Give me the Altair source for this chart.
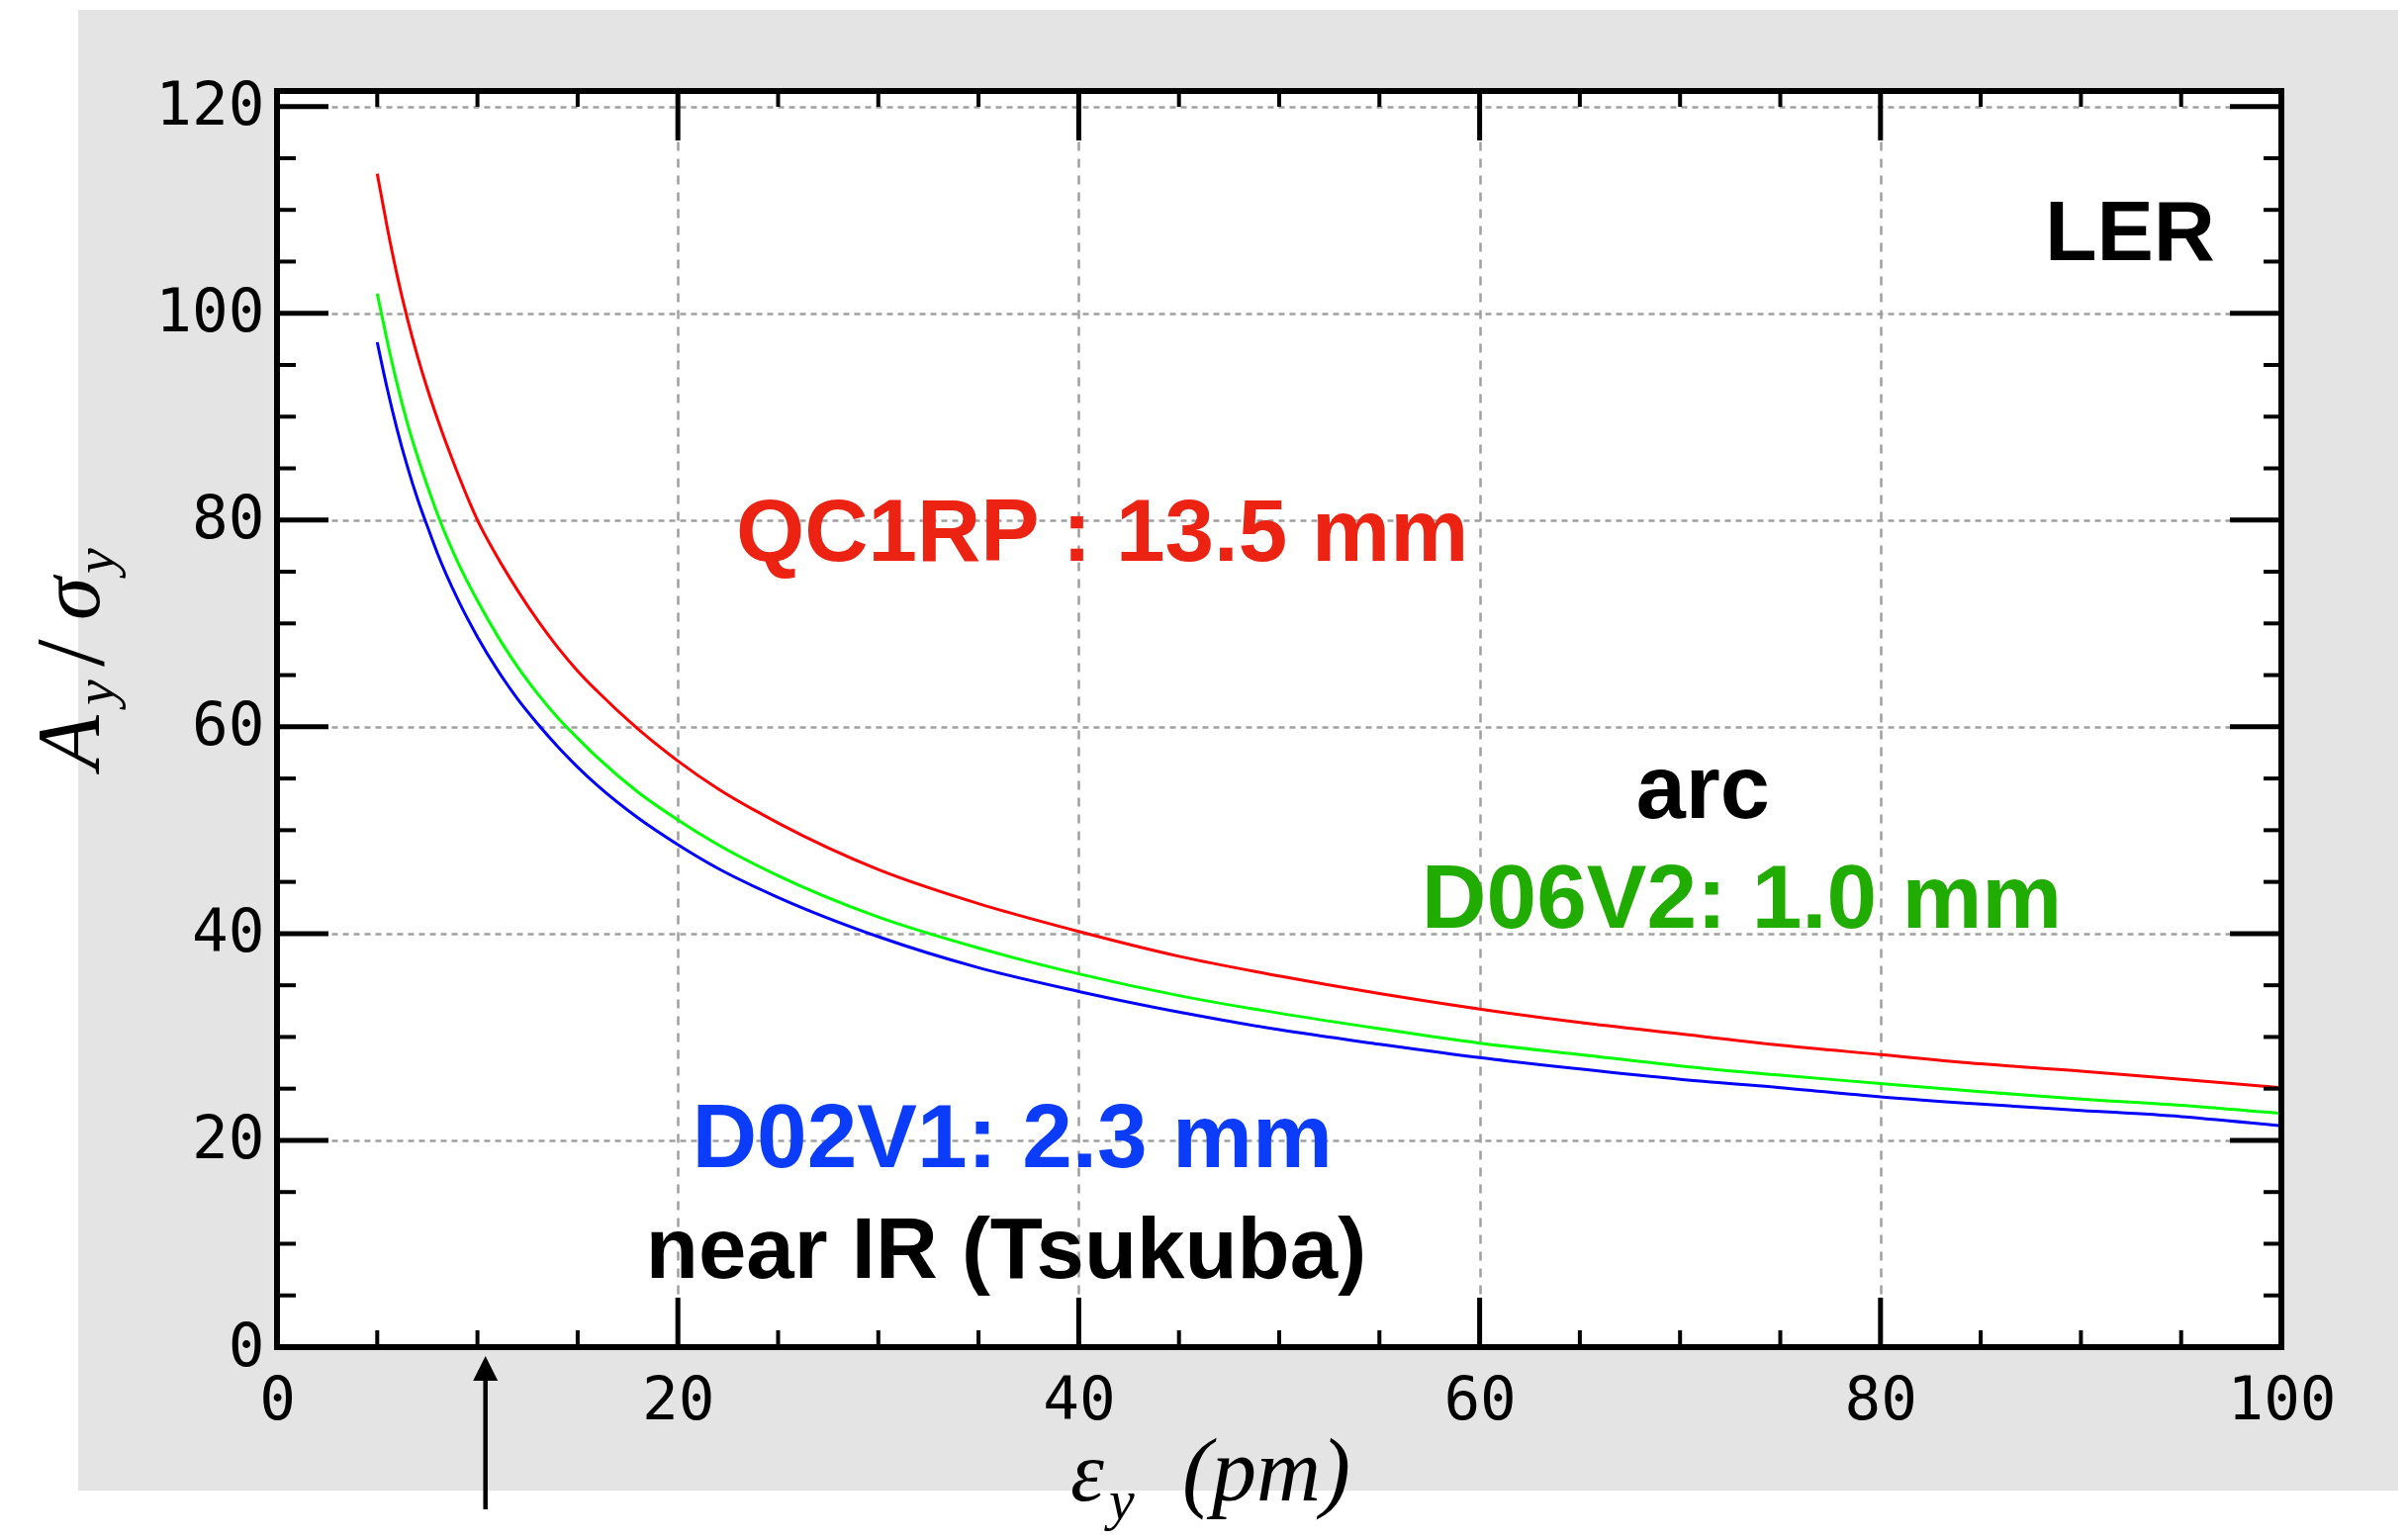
import altair as alt
import pandas as pd

# ---------------- data ----------------
eps_y = [5, 5.5, 6, 6.5, 7, 7.5, 8, 9, 10, 11, 12, 13, 14, 15, 16, 18, 20, 22, 25,
         30, 35, 40, 45, 50, 55, 60, 65, 70, 75, 80, 85, 90, 95, 100]
qc1rp = [113.5, 108.3, 103.6, 99.5, 95.9, 92.7, 89.8, 84.6, 80.0, 76.4, 73.2, 70.3,
         67.7, 65.4, 63.4, 59.8, 56.7, 54.0, 50.7, 46.2, 42.9, 40.2, 37.8, 35.9,
         34.2, 32.7, 31.4, 30.3, 29.2, 28.3, 27.4, 26.7, 25.9, 25.1]
d06v2 = [101.9, 97.3, 93.1, 89.4, 86.2, 83.3, 80.6, 76.0, 72.2, 68.8, 65.8, 63.2,
         60.9, 58.9, 57.0, 53.7, 51.0, 48.6, 45.6, 41.6, 38.6, 36.1, 34.0, 32.3,
         30.8, 29.4, 28.3, 27.2, 26.3, 25.5, 24.7, 24.0, 23.4, 22.6]
d02v1 = [97.2, 92.7, 88.7, 85.2, 82.1, 79.4, 76.8, 72.4, 68.7, 65.5, 62.7, 60.3,
         58.1, 56.1, 54.3, 51.2, 48.6, 46.3, 43.5, 39.7, 36.7, 34.4, 32.4, 30.7,
         29.3, 28.0, 26.9, 25.9, 25.1, 24.2, 23.5, 22.9, 22.3, 21.4]

series_names = ["QC1RP", "D06V2", "D02V1"]
series_colors = ["#ff0000", "#00ff00", "#0000ff"]

x_major = [0, 20, 40, 60, 80, 100]
x_minor = [5, 10, 15, 25, 30, 35, 45, 50, 55, 65, 70, 75, 85, 90, 95]
y_major = [0, 20, 40, 60, 80, 100, 120]
y_minor = [5, 10, 15, 25, 30, 35, 45, 50, 55, 65, 70, 75, 85, 90, 95, 105, 110, 115]

ann_text = ["LER", "QC1RP : 13.5 mm", "arc", "D06V2: 1.0 mm", "D02V1: 2.3 mm", "near IR (Tsukuba)"]
ann_x = [88.2, 22.9, 67.8, 57.1, 20.7, 18.4]
ann_y = [105.1, 76.1, 51.2, 40.6, 17.4, 6.7]
ann_color = ["#000000", "#ec2212", "#000000", "#20ac00", "#0a3cfa", "#000000"]
ann_size = [86, 89, 90, 91, 91, 87]

arrow_x = [10.4]
arrow_y_bottom = [-15.7]
arrow_y_base = [-3.2]
arrow_y_head = [-2.05]

# ---------------- layout ----------------
W, H = 2026, 1270
PAD = {"left": 272, "top": 84, "right": 118, "bottom": 186}

xs = alt.Scale(domain=[0, 100], nice=False, zero=False)
ys = alt.Scale(domain=[0, 121.5], nice=False, zero=False)

x_axis = alt.Axis(values=x_major, title=None, ticks=False, domain=False,
                  labelFont="DejaVu Sans Mono", labelFontSize=61, labelColor="black",
                  labelPadding=24, labelFlush=False, labelOverlap=False, format="d",
                  grid=True, gridDash=[9, 8], gridColor="#a0a0a0", gridWidth=2.5)
y_axis = alt.Axis(values=y_major, title=None, ticks=False, domain=False,
                  labelFont="DejaVu Sans Mono", labelFontSize=61, labelColor="black",
                  labelPadding=13, labelFlush=False, labelOverlap=False, format="d",
                  grid=True, gridDash=[6, 5], gridColor="#a0a0a0", gridWidth=2.5)

rows = []
for name, vals in zip(series_names, [qc1rp, d06v2, d02v1]):
    for x, v in zip(eps_y, vals):
        rows.append({"eps": x, "ratio": v, "s": name})
df = pd.DataFrame(rows)

one = alt.Data(values=[{}])

def strip(x1, x2, y1, y2, color):
    return alt.Chart(one).mark_rect(color=color).encode(
        x=alt.value(x1), x2=alt.value(x2), y=alt.value(y1), y2=alt.value(y2))

strips = [
    strip(-272, -201, -84, 1456, "white"),
    strip(-272, 2144, -84, -82, "white"),
    strip(-272, 2144, 1415, 1456, "white"),
]

lines = alt.Chart(df).mark_line(strokeWidth=3, interpolate="monotone").encode(
    x=alt.X("eps:Q", scale=xs, axis=x_axis),
    y=alt.Y("ratio:Q", scale=ys, axis=y_axis),
    color=alt.Color("s:N", scale=alt.Scale(domain=series_names, range=series_colors), legend=None),
    detail="s:N",
)

dxM = pd.DataFrame({"v": x_major})
dxm = pd.DataFrame({"v": x_minor})
dyM = pd.DataFrame({"v": y_major})
dym = pd.DataFrame({"v": y_minor})

def xtick(d, y1, y2, w):
    return alt.Chart(d).mark_rule(color="black", strokeWidth=w).encode(
        x=alt.X("v:Q", scale=xs, axis=x_axis), y=alt.value(y1), y2=alt.value(y2))

def ytick(d, x1, x2, w):
    return alt.Chart(d).mark_rule(color="black", strokeWidth=w).encode(
        y=alt.Y("v:Q", scale=ys, axis=y_axis), x=alt.value(x1), x2=alt.value(x2))

ticks = [
    xtick(dxM, H, H - 50, 5), xtick(dxm, H, H - 17, 4),
    xtick(dxM, 0, 50, 5), xtick(dxm, 0, 16, 4),
    ytick(dyM, 0, 52, 5), ytick(dym, 0, 19, 4),
    ytick(dyM, W, W - 52, 5), ytick(dym, W, W - 18, 4),
]

frame = alt.Chart(one).mark_rect(filled=False, stroke="black", strokeWidth=6).encode(
    x=alt.value(0), x2=alt.value(W), y=alt.value(0), y2=alt.value(H))

ann_df = pd.DataFrame({"x": ann_x, "y": ann_y, "t": ann_text, "c": ann_color, "sz": ann_size})
ann = alt.Chart(ann_df).mark_text(align="left", baseline="alphabetic",
                                  font="Liberation Sans", fontWeight="bold").encode(
    x=alt.X("x:Q", scale=xs, axis=x_axis),
    y=alt.Y("y:Q", scale=ys, axis=y_axis),
    text="t:N",
    color=alt.Color("c:N", scale=None),
    size=alt.Size("sz:Q", scale=None),
)

arr_df = pd.DataFrame({"x": arrow_x, "y1": arrow_y_bottom, "y2": arrow_y_base, "yh": arrow_y_head})
arrow_shaft = alt.Chart(arr_df).mark_rule(color="black", strokeWidth=4.5).encode(
    x=alt.X("x:Q", scale=xs, axis=x_axis),
    y=alt.Y("y1:Q", scale=ys, axis=y_axis), y2="y2:Q")
arrow_head = alt.Chart(arr_df).mark_point(shape="M0,-1L1,1L-1,1Z", filled=True, size=625,
                                          color="black", opacity=1).encode(
    x=alt.X("x:Q", scale=xs, axis=x_axis),
    y=alt.Y("yh:Q", scale=ys, axis=y_axis))

def ptext(txt, x, y, size, angle=0, style="italic"):
    kw = dict(text=txt, align="left", baseline="alphabetic", font="Liberation Serif",
              fontSize=size, color="black", fontStyle=style)
    if angle:
        kw["angle"] = angle
    return alt.Chart(one).mark_text(**kw).encode(x=alt.value(x), y=alt.value(y))

titles = [
    # x-axis title: eps_y (pm)
    ptext("ε", 802, 1425, 86),
    ptext("y", 841, 1444, 58),
    ptext("(pm)", 915, 1425, 90),
    # y-axis title: A_y / sigma_y (rotated, reading upward)
    ptext("A", -180, 686, 90, 270),
    ptext("y", -165, 621, 58, 270),
    ptext("/", -176, 582, 100, 270, "normal"),
    ptext("σ", -180, 535, 88, 270),
    ptext("y", -165, 488, 58, 270),
]

chart = alt.layer(*strips, lines, *ticks, frame, ann, arrow_shaft, arrow_head, *titles).properties(
    width=W, height=H, padding=PAD, autosize=alt.AutoSizeParams(type="none")
).configure(background="#e4e4e4").configure_view(stroke="transparent", fill="white")

chart.save("out.html", embed_options={"renderer": "svg", "actions": False})
